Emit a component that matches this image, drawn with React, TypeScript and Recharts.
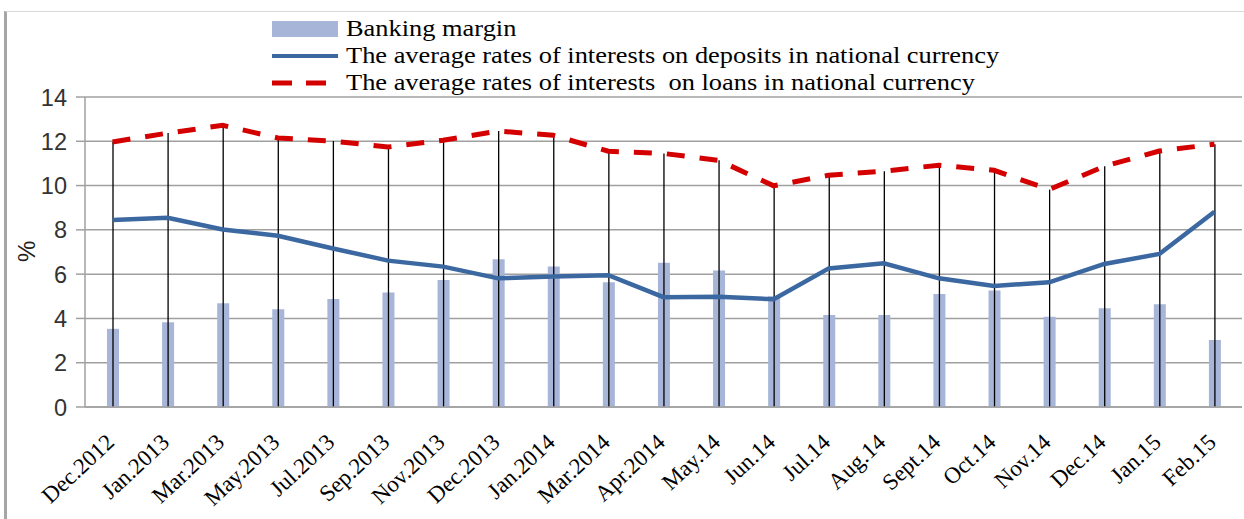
import React from "react";
import {
  ComposedChart,
  Bar,
  Line,
  XAxis,
  YAxis,
  CartesianGrid,
  ErrorBar,
} from "recharts";

const categories = [
  "Dec.2012", "Jan.2013", "Mar.2013", "May.2013", "Jul.2013", "Sep.2013", "Nov.2013",
  "Dec.2013", "Jan.2014", "Mar.2014", "Apr.2014", "May.14", "Jun.14", "Jul.14",
  "Aug.14", "Sept.14", "Oct.14", "Nov.14", "Dec.14", "Jan.15", "Feb.15",
];
const bankingMargin = [
  3.53, 3.83, 4.69, 4.42, 4.88, 5.17, 5.74, 6.67, 6.34, 5.63, 6.52, 6.16, 5.0, 4.16,
  4.16, 5.1, 5.26, 4.08, 4.46, 4.64, 3.03,
];
const depositRates = [
  8.44, 8.55, 8.02, 7.73, 7.16, 6.61, 6.34, 5.81, 5.89, 5.95, 4.96, 4.98, 4.87, 6.26,
  6.49, 5.81, 5.47, 5.63, 6.46, 6.91, 8.82,
];
const loanRates = [
  11.97, 12.37, 12.72, 12.15, 12.01, 11.74, 12.05, 12.46, 12.27, 11.55, 11.45, 11.14,
  9.99, 10.47, 10.65, 10.92, 10.69, 9.82, 10.87, 11.56, 11.87,
];
const yTicks = [0, 2, 4, 6, 8, 10, 12, 14];

const legendLabels = [
  "Banking margin",
  "The average rates of interests on deposits in national currency",
  "The average rates of interests  on loans in national currency",
];

const data = categories.map((c, i) => ({
  name: c,
  margin: bankingMargin[i],
  deposits: depositRates[i],
  loans: loanRates[i],
  drop: [bankingMargin[i], loanRates[i] - bankingMargin[i]],
}));

const BAR_COLOR = "#a7b6d8";
const BLUE = "#3b68a0";
const RED = "#d40000";

const XTick = (props: any) => {
  const { x, y, payload } = props;
  const tx = x + 3;
  const ty = y + 29;
  return (
    <text
      x={tx}
      y={ty}
      transform={`rotate(-43, ${tx}, ${ty})`}
      textAnchor="end"
      fontFamily="'Liberation Serif', 'Times New Roman', serif"
      fontSize={23}
      fill="#000"
    >
      {payload.value}
    </text>
  );
};

const YTick = (props: any) => {
  const { x, y, payload } = props;
  return (
    <text
      x={x - 7}
      y={y}
      dy={8.5}
      textAnchor="end"
      fontFamily="'Liberation Sans', Arial, sans-serif"
      fontSize={23.5}
      fill="#333"
    >
      {payload.value}
    </text>
  );
};

const Legend3 = () => {
  const rowStyle: React.CSSProperties = {
    display: "flex",
    alignItems: "center",
    height: 27,
    whiteSpace: "pre",
  };
  const textStyle: React.CSSProperties = {
    display: "inline-block",
    fontFamily: "'Liberation Serif', 'Times New Roman', serif",
    fontSize: 24,
    lineHeight: "27px",
    height: 27,
    color: "#000",
    marginLeft: 8,
    transform: "scaleX(1.1)",
    transformOrigin: "left center",
  };
  return (
    <div style={{ position: "absolute", left: 272, top: 15 }}>
      <div style={rowStyle}>
        <svg width={66} height={18}>
          <rect x={0} y={1} width={66} height={16} fill={BAR_COLOR} />
        </svg>
        <span style={textStyle}>{legendLabels[0]}</span>
      </div>
      <div style={rowStyle}>
        <svg width={66} height={18}>
          <line x1={0} y1={9} x2={66} y2={9} stroke={BLUE} strokeWidth={4} />
        </svg>
        <span style={textStyle}>{legendLabels[1]}</span>
      </div>
      <div style={rowStyle}>
        <svg width={66} height={18}>
          <line
            x1={0}
            y1={9}
            x2={66}
            y2={9}
            stroke={RED}
            strokeWidth={5}
            strokeDasharray="20 14"
          />
        </svg>
        <span style={textStyle}>{legendLabels[2]}</span>
      </div>
    </div>
  );
};

export default function App() {
  return (
    <div
      style={{
        position: "absolute",
        left: 0,
        top: 0,
        width: 1244,
        height: 519,
        background: "#fff",
      }}
    >
      <div
        style={{
          position: "absolute",
          left: 4,
          top: 11,
          width: 1240,
          height: 508,
          borderLeft: "3px solid #a6a6a6",
          borderTop: "1px solid #d9d9d9",
        }}
      />
      <div style={{ position: "absolute", left: 0, top: 0 }}>
        <ComposedChart
          width={1244}
          height={519}
          data={data}
          margin={{ top: 97, right: 2, left: 0, bottom: 0 }}
        >
          <CartesianGrid vertical={false} stroke="#a0a0a0" strokeWidth={1.5} />
          <XAxis
            dataKey="name"
            interval={0}
            tick={<XTick />}
            tickLine={false}
            axisLine={{ stroke: "#a0a0a0", strokeWidth: 1.5 }}
            height={112}
          />
          <YAxis
            domain={[0, 14]}
            ticks={yTicks}
            interval={0}
            width={85}
            tick={<YTick />}
            tickSize={9}
            tickLine={{ stroke: "#a0a0a0", strokeWidth: 1.5 }}
            axisLine={{ stroke: "#a0a0a0", strokeWidth: 1.5 }}
            label={{
              value: "%",
              angle: -90,
              position: "insideLeft",
              dx: 21,
              dy: 10,
              style: {
                fontFamily: "'Liberation Sans', Arial, sans-serif",
                fontSize: 24,
                fill: "#222",
              },
            }}
          />
          <Bar
            dataKey="margin"
            fill={BAR_COLOR}
            barSize={12}
            isAnimationActive={false}
          >
            <ErrorBar dataKey="drop" width={0} stroke="#000" strokeWidth={1.3} direction="y" />
          </Bar>
          <Line
            dataKey="deposits"
            stroke={BLUE}
            strokeWidth={4.5}
            dot={false}
            type="linear"
            isAnimationActive={false}
          />
          <Line
            dataKey="loans"
            stroke={RED}
            strokeWidth={5}
            strokeDasharray="18 15"
            dot={false}
            type="linear"
            isAnimationActive={false}
          />
        </ComposedChart>
      </div>
      <Legend3 />
    </div>
  );
}
